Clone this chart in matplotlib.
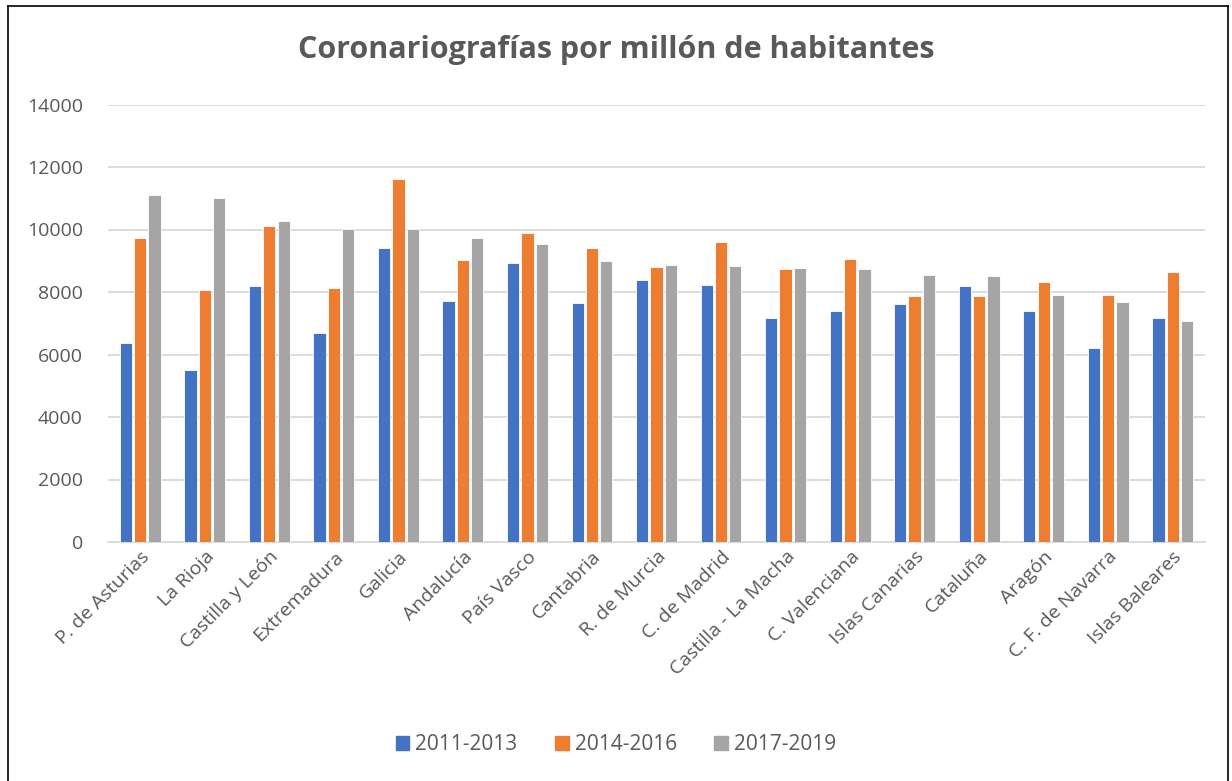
import matplotlib
matplotlib.use("Agg")
import matplotlib.pyplot as plt
from matplotlib.lines import Line2D
import numpy as np

categories = ["P. de Asturias", "La Rioja", "Castilla y León", "Extremadura", "Galicia",
              "Andalucía", "País Vasco", "Cantabria", "R. de Murcia", "C. de Madrid",
              "Castilla - La Macha", "C. Valenciana", "Islas Canarias", "Cataluña",
              "Aragón", "C. F. de Navarra", "Islas Baleares"]
s2011 = [6380, 5510, 8200, 6700, 9410, 7720, 8940, 7640, 8370, 8220,
         7180, 7380, 7620, 8200, 7390, 6220, 7170]
s2014 = [9720, 8070, 10110, 8140, 11620, 9020, 9900, 9420, 8810, 9610,
         8740, 9060, 7870, 7860, 8330, 7920, 8650]
s2017 = [11110, 11010, 10280, 10030, 10030, 9720, 9530, 8980, 8860, 8840,
         8770, 8730, 8540, 8510, 7900, 7690, 7080]
series_names = ["2011-2013", "2014-2016", "2017-2019"]
yticks = [0, 2000, 4000, 6000, 8000, 10000, 12000, 14000]

colors = ["#4472C4", "#ED7D31", "#A5A5A5"]
txt = "#595959"
plt.rcParams['font.family'] = ['Open Sans', 'DejaVu Sans']

W, H = 1232, 781
fig = plt.figure(figsize=(W/100, H/100), dpi=100)
ax = fig.add_axes([108/W, 1-542/H, (1205-108)/W, (542-104.5)/H])

x = np.arange(len(categories))
w = 0.19
step = 0.222
for i, (vals, c, n) in enumerate(zip([s2011, s2014, s2017], colors, series_names)):
    ax.bar(x + (i-1)*step, vals, width=w, color=c, edgecolor="white", linewidth=0.6, label=n, zorder=3)

ax.set_xlim(-0.5, len(categories)-0.5)
ax.set_ylim(0, 14000)
ax.set_yticks(yticks)
ax.set_yticklabels([str(v) for v in yticks], color=txt, fontsize=14)
ax.yaxis.grid(True, color="#D9D9D9", linewidth=1.3, zorder=0)
ax.set_axisbelow(True)
for s in ["top", "right", "left"]:
    ax.spines[s].set_visible(False)
ax.spines["bottom"].set_color("#D9D9D9")
ax.spines["bottom"].set_linewidth(1.3)
ax.tick_params(axis="y", length=0, pad=18)
ax.tick_params(axis="x", length=0, pad=4)
ax.set_xticks(x)
ax.set_xticklabels(categories, rotation=45, ha="right", rotation_mode="anchor",
                   color=txt, fontsize=14)

fig.text(0.5, 1-50/H, "Coronariografías por millón de habitantes", ha="center", va="center",
         fontsize=22, fontweight="bold", color=txt)

handles = [plt.Rectangle((0, 0), 1, 1, color=c) for c in colors]
fig.legend(handles, series_names, loc="center", bbox_to_anchor=(0.5, 1-745/H), ncol=3,
           frameon=False, fontsize=15, labelcolor=txt, handlelength=0.65, handleheight=0.65,
           columnspacing=1.8, handletextpad=0.3)

# outer border
for (x0, y0, x1, y1) in [(8, 6, 1228, 6), (8, 6, 8, 781), (1228, 6, 1228, 781)]:
    fig.add_artist(Line2D([x0/W, x1/W], [1-y0/H, 1-y1/H], color="black", linewidth=1.2,
                          transform=fig.transFigure))

fig.savefig("out.png", dpi=100, facecolor="white")
